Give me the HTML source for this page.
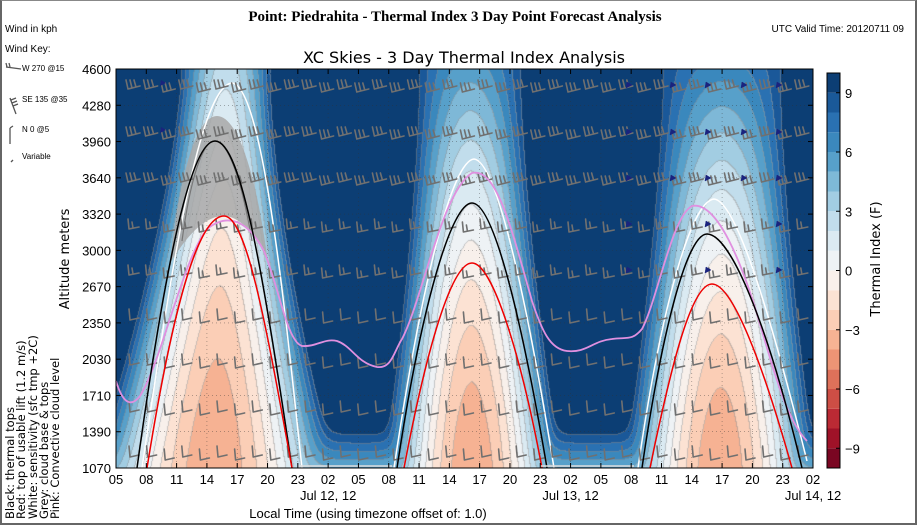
<!DOCTYPE html>
<html><head><meta charset="utf-8">
<style>
html,body{margin:0;padding:0;background:#fff;}
#wrap{position:relative;width:917px;height:525px;overflow:hidden;background:#fff;box-sizing:border-box;border-left:2px solid #666;border-right:2px solid #666;border-bottom:2px solid #666;border-top:1px solid #888;}
canvas{position:absolute;left:114px;top:68px;}
svg{position:absolute;left:0;top:0;}
text{font-family:"Liberation Sans",sans-serif;}
.dj{font-family:"DejaVu Sans",sans-serif;}
</style></head><body>
<div id="wrap">
<canvas id="cv" width="697" height="399"></canvas>
<svg id="sv" width="917" height="525" viewBox="0 0 917 525">
<text x="453" y="20" text-anchor="middle" font-weight="bold" font-size="15" style="font-family:'Liberation Serif',serif">Point: Piedrahita - Thermal Index 3 Day Point Forecast Analysis</text>
<text x="3" y="31" font-size="10">Wind in kph</text>
<text x="902" y="31" font-size="10" text-anchor="end">UTC Valid Time: 20120711 09</text>
<text x="3" y="51" font-size="10">Wind Key:</text>
<g stroke="#555" stroke-width="1.3" fill="none">
<path d="M4 66 L19 68 M5 66 L4 62 M8 66 L7 62"/>
<path d="M8 97 L14 113 M9 99 L14 97 M10 102 L15 100 M11 105 L16 103"/>
<path d="M8 127 L8 143 M8 127 L11 125"/>
<path d="M9 161 L11 159"/>
</g>
<text x="20" y="70" font-size="8">W 270 @15</text>
<text x="20" y="101" font-size="8">SE 135 @35</text>
<text x="20" y="131" font-size="8">N 0 @5</text>
<text x="20" y="158" font-size="8">Variable</text>
<text x="462" y="62" text-anchor="middle" font-size="16" class="dj">XC Skies - 3 Day Thermal Index Analysis</text>
<g id="over"></g>
<g font-size="13" fill="#000" id="yt"></g>
<g font-size="13" fill="#000" id="xt"></g>
<text x="366" y="517" text-anchor="middle" font-size="13">Local Time (using timezone offset of: 1.0)</text>
<text transform="translate(67,258) rotate(-90)" text-anchor="middle" font-size="13" class="dj">Altitude meters</text>
<text transform="translate(878,258) rotate(-90)" text-anchor="middle" font-size="13" class="dj">Thermal Index (F)</text>
<g fill="#000">
<text transform="translate(12,518) rotate(-90)" class="dj" font-size="11.5">Black: thermal tops</text>
<text transform="translate(23,518) rotate(-90)" class="dj" font-size="11.5">Red: top of usable lift (1.2 m/s)</text>
<text transform="translate(35,518) rotate(-90)" class="dj" font-size="11.5">White: sensitivity (sfc tmp +2C)</text>
<text transform="translate(46,518) rotate(-90)" class="dj" font-size="11.5">Grey: cloud base &amp; tops</text>
<text transform="translate(57,518) rotate(-90)" class="dj" font-size="11.5">Pink: Convective cloud level</text>
</g>
<g id="cb"></g>
</svg>
</div>
<script>
var stops=["#67001f","#b2182b","#d6604d","#f4a582","#fddbc7","#f7f7f7","#d1e5f0","#92c5de","#4393c3","#2166ac","#053061"];
function hx(s){return [parseInt(s.substr(1,2),16),parseInt(s.substr(3,2),16),parseInt(s.substr(5,2),16)];}
var S=stops.map(hx);
function cmap(v){var t=(v+10)/20*10;if(t<0)t=0;if(t>10)t=10;var i=Math.min(9,Math.floor(t)),f=t-i;var a=S[i],b=S[i+1];return [a[0]+(b[0]-a[0])*f,a[1]+(b[1]-a[1])*f,a[2]+(b[2]-a[2])*f];}
var W=697,H=399;
var days=[{c0:98,c1:110,wb:120,wt:44,tt:2.5},{c0:356,c1:354,wb:88,wt:50,tt:5.5},{c0:604,c1:606,wb:95,wt:58,tt:6.5}];
function field(px,py){
 var h=4600-py*3530/399,u=(h-1070)/3530;
 var vals=[];
 for(var d of days){var c=d.c0+(d.c1-d.c0)*u,w=d.wt+(d.wb-d.wt)*Math.pow(1-u,1.5),Tc=-3.8+(d.tt+3.8)*Math.pow(u,1.6);
  var r=Math.abs(px-c)/w;vals.push(Math.min(16,Tc+(9-Tc)*Math.pow(r,1.9)));}
 vals.push(5.0+4.5*(h-1070)/330);
 var s=1.3,sum=0;for(var v of vals)sum+=Math.exp(-v/s);
 var T=-s*Math.log(sum);return Math.min(9.9,T);
}
var cv=document.getElementById('cv'),ctx=cv.getContext('2d'),img=ctx.createImageData(W,H);
var L=new Int16Array(W*H);
for(var y=0;y<H;y++)for(var x=0;x<W;x++){L[y*W+x]=Math.floor(field(x,y));}
for(var y=0;y<H;y++)for(var x=0;x<W;x++){
 var l=L[y*W+x],c=cmap(l+0.5);
 var edge=(x<W-1&&L[y*W+x+1]!=l)||(y<H-1&&L[(y+1)*W+x]!=l);
 if(edge){c=[c[0]*0.5+150*0.5,c[1]*0.5+150*0.5,c[2]*0.5+150*0.5];}
 var k=(y*W+x)*4;img.data[k]=c[0];img.data[k+1]=c[1];img.data[k+2]=c[2];img.data[k+3]=255;}
ctx.putImageData(img,0,0);
var NS="http://www.w3.org/2000/svg";
function el(tag,at,par,txt){var e=document.createElementNS(NS,tag);for(var k in at)e.setAttribute(k,at[k]);if(txt!=null)e.textContent=txt;(par||document.getElementById('over')).appendChild(e);return e;}
el('path',{d:"M168 262 C178 170 195 115 215 115 C235 115 254 170 266 262 C258 240 240 215 222 215 C202 215 185 235 168 262 Z",fill:"#a8a8a8",opacity:"0.85"});
el('path',{d:"M180 240 C188 180 200 140 213 140 C226 140 240 180 250 240",fill:"none",stroke:"#777","stroke-width":1.2});
var gg=el('g',{stroke:"#333","stroke-width":0.6,"stroke-dasharray":"1,3",opacity:"0.6"});
for(var i=1;i<23;i++){var x=114+i*697/23;el('line',{x1:x,y1:68,x2:x,y2:467},gg);}
for(var i=1;i<11;i++){var y=68+i*399/11;el('line',{x1:114,y1:y,x2:811,y2:y},gg);}
var wl=[ "M140 467 C165 300 195 85 230 82 C262 85 285 330 300 467",
 "M392 467 C420 280 450 160 472 158 C495 160 525 300 552 467",
 "M636 467 C660 300 690 200 712 198 C735 200 770 320 805 460"];
for(var p of wl)el('path',{d:p,fill:"none",stroke:"#fff","stroke-width":1.5});
var bg=el('g',{stroke:"#707070","stroke-width":1.6,fill:"none","stroke-linecap":"round"});
var rows=[83,130,176,222,268,313,358,405,450];
for(var r=0;r<rows.length;r++){for(var x=132;x<810;x+=17.6){
 var y=rows[r]+((Math.floor((x-132)/17.6))%2?3:0);
 var d;
 if(r<3) d="M"+(x-6)+" "+(y+5)+" l12 -3 M"+(x-6)+" "+(y+5)+" l-2 -9 M"+(x-2)+" "+(y+4)+" l-2 -8 M"+(x+2)+" "+(y+3)+" l-2 -7";
 else if(r<5) d="M"+(x-5)+" "+(y+6)+" l10 -2 M"+(x-5)+" "+(y+6)+" l-1 -10 M"+(x-1)+" "+(y+5)+" l-1 -6";
 else d="M"+(x-4)+" "+(y+6)+" l9 -2 M"+(x-4)+" "+(y+6)+" l-1 -11";
 el('path',{d:d},bg);}}
for(var r=0;r<5;r++)for(var x of [628,672,707,743,778]){if(r>2&&(x==672||x==743))continue;var y=rows[r];el('path',{d:"M"+(x-4)+" "+(y+4)+" l6 -3 l-5 -3 z",fill:"#1a237e",stroke:"#1a237e","stroke-width":0.5});}
el('path',{d:"M158 85 l6 -3 l-5 -3 z",fill:"#1a237e"});el('path',{d:"M158 132 l6 -3 l-5 -3 z",fill:"#1a237e"});
el('path',{d:"M114 380 C120 400 128 408 138 395 C160 360 180 260 205 228 C225 212 245 218 262 250 C278 290 285 340 300 345 C315 346 322 337 335 340 C350 345 355 362 375 366 C390 368 392 350 400 338 C420 300 440 190 470 172 C495 166 510 230 530 300 C540 330 548 348 565 350 C585 352 590 340 610 338 C625 336 630 340 640 328 C655 300 670 215 690 205 C715 200 740 260 760 330 C772 370 785 420 805 440",fill:"none",stroke:"#e090e0","stroke-width":1.8});
for(var p of ["M135 467 C165 250 190 140 213 140 C240 140 262 280 290 467","M395 467 C420 300 450 202 470 202 C492 202 520 320 545 467","M640 467 C660 330 685 233 705 233 C728 233 765 320 800 467"])
 el('path',{d:p,fill:"none",stroke:"#000","stroke-width":1.5});
for(var p of ["M145 467 C175 280 200 215 222 215 C245 215 265 330 290 467","M402 467 C428 330 452 262 470 262 C490 262 518 350 540 467","M648 467 C670 360 690 283 710 283 C730 283 760 360 790 467"])
 el('path',{d:p,fill:"none",stroke:"#e00","stroke-width":1.5});
el('line',{x1:296,y1:465,x2:390,y2:465,stroke:"#ddd","stroke-width":1.5});
el('line',{x1:538,y1:465,x2:632,y2:465,stroke:"#ddd","stroke-width":1.5});
el('rect',{x:114,y:68,width:697,height:399,fill:"none",stroke:"#000","stroke-width":1});
var yl=[4600,4280,3960,3640,3320,3000,2670,2350,2030,1710,1390,1070],yt=document.getElementById('yt');
for(var i=0;i<12;i++){var y=68+i*399/11;el('text',{x:109,y:y+5,"text-anchor":"end"},yt,yl[i]);el('line',{x1:114,y1:y,x2:119,y2:y,stroke:"#000"});el('line',{x1:806,y1:y,x2:811,y2:y,stroke:"#000"});}
var hrs=["05","08","11","14","17","20","23","02"],xt=document.getElementById('xt');
for(var i=0;i<24;i++){var x=114+i*697/23;el('text',{x:x,y:483,"text-anchor":"middle"},xt,hrs[i%8]);el('line',{x1:x,y1:467,x2:x,y2:462,stroke:"#000"});el('line',{x1:x,y1:68,x2:x,y2:73,stroke:"#000"});}
el('text',{x:114+7*697/23,y:499,"text-anchor":"middle"},xt,"Jul 12, 12");
el('text',{x:114+15*697/23,y:499,"text-anchor":"middle"},xt,"Jul 13, 12");
el('text',{x:811,y:499,"text-anchor":"middle"},xt,"Jul 14, 12");
var cb=document.getElementById('cb');
for(var v=-10;v<10;v++){var c=cmap(v+0.5);el('rect',{x:825,y:467-(v+10+1)*19.75,width:13,height:19.75,fill:"rgb("+c.map(Math.round).join(",")+")"},cb);}
el('rect',{x:825,y:72,width:13,height:395,fill:"none",stroke:"#000"},cb);
for(var v of [9,6,3,0,-3,-6,-9]){var y=467-(v+10)*19.75;el('line',{x1:834,y1:y,x2:838,y2:y,stroke:"#000"},cb);el('text',{x:843,y:y+5,"font-size":13},cb,v<0?"\u2212"+(-v):v);}
</script>
</body></html>
